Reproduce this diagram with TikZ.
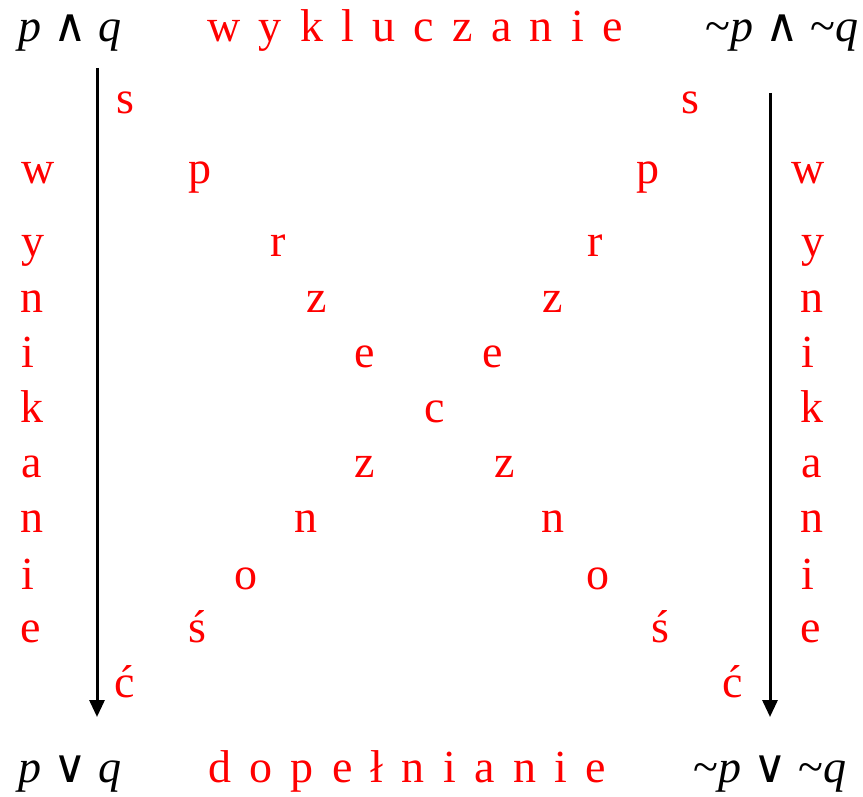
\documentclass[tikz,border=0pt]{standalone}
\usepackage{fontspec}
\setmainfont{Liberation Serif}
\newfontfamily\opfont{DejaVu Sans}
\usepackage{xcolor}
\usetikzlibrary{arrows.meta}
\newcommand{\conj}{{\opfont\upshape ∧}}
\newcommand{\disj}{{\opfont\upshape ∨}}
\newcommand{\negn}{{\upshape\textasciitilde}}
\newcommand{\widespace}{\spaceskip=18.3pt\relax}
\tikzset{
  letter/.style={
    text=red,
    inner sep=0pt,
    anchor=base,
    font=\fontsize{46}{46}\selectfont\widespace
  },
  colletter/.style={letter, anchor=base west},
  formula/.style={
    inner sep=0pt,
    anchor=base,
    font=\fontsize{46}{46}\selectfont\itshape
  },
  flow/.style={-{Triangle[width=15pt,length=17pt]}, line width=3pt}
}

\begin{document}
\begin{tikzpicture}[x=1pt,y=-1pt]
\useasboundingbox (0,0) rectangle (863,797);
% corners
\node[formula] (pq and) at (70,42) {p \conj{} q};
\node[formula] (npq and) at (782,42) {\negn p \conj{} \negn q};
\node[formula] (pq or) at (70,782) {p \disj{} q};
\node[formula] (npq or) at (770,782) {\negn p \disj{} \negn q};
% headings
\node[letter] (excl) at (415,42) {w y k l u c z a n i e};
\node[letter] (compl) at (407,782) {d o p e ł n i a n i e};
% wynikanie, left and right
\node[colletter] (lw) at (21,184) {w};
\node[colletter] (ly) at (21,257) {y};
\node[colletter] (ln) at (20,312) {n};
\node[colletter] (li) at (21,367) {i};
\node[colletter] (lk) at (20,422) {k};
\node[colletter] (la) at (21,477) {a};
\node[colletter] (ln2) at (20,532) {n};
\node[colletter] (li2) at (21,589) {i};
\node[colletter] (le) at (20,642) {e};
\node[colletter] (rw) at (791,184) {w};
\node[colletter] (ry) at (801,257) {y};
\node[colletter] (rn) at (800,312) {n};
\node[colletter] (ri) at (801,367) {i};
\node[colletter] (rk) at (800,422) {k};
\node[colletter] (ra) at (801,477) {a};
\node[colletter] (rn2) at (800,532) {n};
\node[colletter] (ri2) at (801,589) {i};
\node[colletter] (re) at (800,642) {e};
% sprzeczność, first diagonal
\node[letter] (ds) at (125,114) {s};
\node[letter] (dp) at (200,184) {p};
\node[letter] (dr) at (278,257) {r};
\node[letter] (dz) at (317,312) {z};
\node[letter] (de) at (365,367) {e};
\node[letter] (dc) at (435,422) {c};
\node[letter] (dz2) at (505,477) {z};
\node[letter] (dn) at (553,532) {n};
\node[letter] (do) at (598,589) {o};
\node[letter] (ds2) at (660,642) {ś};
\node[letter] (dc2) at (733,697) {ć};
% sprzeczność, second diagonal
\node[letter] (as) at (690,114) {s};
\node[letter] (ap) at (648,184) {p};
\node[letter] (ar) at (595,257) {r};
\node[letter] (az) at (553,312) {z};
\node[letter] (ae) at (493,367) {e};
\node[letter] (az2) at (365,477) {z};
\node[letter] (an) at (306,532) {n};
\node[letter] (ao) at (246,589) {o};
\node[letter] (as2) at (197,642) {ś};
\node[letter] (ac2) at (125,697) {ć};
% arrows
\coordinate (l top) at (97,68);
\coordinate (l bot) at (97,717);
\coordinate (r top) at (770,93);
\coordinate (r bot) at (770,717);
\draw[flow] (l top) -- (l bot);
\draw[flow] (r top) -- (r bot);
\end{tikzpicture}
\end{document}
